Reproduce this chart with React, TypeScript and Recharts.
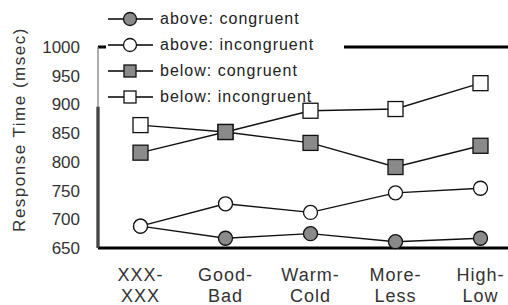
import React from "react";
import { LineChart, Line, XAxis, YAxis, Legend, ReferenceLine } from "recharts";

const categories = ["XXX-XXX", "Good-Bad", "Warm-Cold", "More-Less", "High-Low"];
const aboveCongruent = [688, 667, 675, 661, 667];
const aboveIncongruent = [688, 727, 712, 746, 754];
const belowCongruent = [816, 852, 833, 791, 828];
const belowIncongruent = [864, 852, 889, 892, 937];
const yTicks = [650, 700, 750, 800, 850, 900, 950, 1000];
const yMarkTicks = [900, 950, 1000];
const categoryTicks = [1, 2, 3, 4, 5];
const boundaryTicks = [1.5, 2.5, 3.5, 4.5];

const data = categories.map((name, i) => ({
  pos: i + 1,
  name,
  aboveCongruent: aboveCongruent[i],
  aboveIncongruent: aboveIncongruent[i],
  belowCongruent: belowCongruent[i],
  belowIncongruent: belowIncongruent[i],
}));

const GRAY = "#8a8a8a";
const FONT = '"Liberation Sans", Arial, sans-serif';

type Shape = "circle" | "square";

const series: { key: string; name: string; shape: Shape; fill: string }[] = [
  { key: "aboveCongruent", name: "above: congruent", shape: "circle", fill: GRAY },
  { key: "aboveIncongruent", name: "above: incongruent", shape: "circle", fill: "#fff" },
  { key: "belowCongruent", name: "below: congruent", shape: "square", fill: GRAY },
  { key: "belowIncongruent", name: "below: incongruent", shape: "square", fill: "#fff" },
];

// draw order: white squares under the grey ones
const drawOrder = ["aboveCongruent", "aboveIncongruent", "belowIncongruent", "belowCongruent"];

const Marker = ({ cx, cy, shape, fill, size }: any) =>
  shape === "circle" ? (
    <circle cx={cx} cy={cy} r={size / 2} fill={fill} stroke="#111" strokeWidth={1.3} />
  ) : (
    <rect x={cx - size / 2} y={cy - size / 2} width={size} height={size} fill={fill} stroke="#111" strokeWidth={1.3} />
  );

const CategoryTick = ({ x, y, payload }: any) => {
  const label = categories[payload.value - 1] || "";
  const [top, bottom] = label.split("-");
  return (
    <text x={x} y={y} textAnchor="middle" fill="#333" fontSize={18} fontFamily={FONT} style={{ letterSpacing: 1 }}>
      <tspan x={x} dy={33}>{top}-</tspan>
      <tspan x={x} dy={21}>{bottom}</tspan>
    </text>
  );
};

const LegendBox = () => (
  <div style={{ width: 238, paddingLeft: 2, fontFamily: FONT }}>
    {series.map((s, i) => (
      <div
        key={s.key}
        style={{ display: "flex", alignItems: "center", height: 26, background: i < 2 ? "#fff" : "transparent" }}
      >
        <svg width={50} height={26}>
          <line x1={2} y1={13} x2={47} y2={13} stroke="#000" strokeWidth={1.5} />
          <Marker cx={24} cy={13} shape={s.shape} fill={s.fill} size={s.shape === "circle" ? 13 : 12} />
        </svg>
        <span style={{ marginLeft: 4, fontSize: 16, letterSpacing: 1, color: "#222" }}>{s.name}</span>
      </div>
    ))}
  </div>
);

export default function App() {
  return (
    <div style={{ position: "absolute", left: 0, top: 0, width: 508, height: 305, overflow: "hidden", background: "#fff" }}>
      <LineChart width={540} height={305} data={data} margin={{ top: 47, right: 17, bottom: 0, left: 38 }}>
        <XAxis
          xAxisId="marks"
          type="number"
          dataKey="pos"
          domain={[0.5, 5.5]}
          ticks={boundaryTicks}
          mirror
          height={0}
          axisLine={false}
          tickSize={5}
          tickLine={{ stroke: "#333" }}
          tickFormatter={() => ""}
        />
        <XAxis
          type="number"
          dataKey="pos"
          domain={[0.5, 5.5]}
          ticks={categoryTicks}
          height={57}
          tickLine={false}
          tickSize={0}
          tickMargin={0}
          axisLine={{ stroke: "#000", strokeWidth: 3 }}
          tick={<CategoryTick />}
          interval={0}
        />
        <YAxis
          domain={[650, 1000]}
          ticks={yTicks}
          width={60}
          interval={0}
          axisLine={false}
          tickLine={false}
          tickSize={4}
          tickMargin={14}
          tick={{ fill: "#333", fontSize: 17, fontFamily: FONT }}
          label={{
            content: ({ viewBox }: any) => {
              const lx = viewBox.x - 19;
              const ly = viewBox.y + viewBox.height / 2 - 18;
              return (
                <text
                  x={lx}
                  y={ly}
                  transform={`rotate(-90 ${lx} ${ly})`}
                  textAnchor="middle"
                  dominantBaseline="central"
                  fill="#333"
                  fontSize={17}
                  fontFamily={FONT}
                  style={{ letterSpacing: 1.5 }}
                >
                  Response Time (msec)
                </text>
              );
            },
          }}
        />
        <YAxis
          yAxisId="marks"
          domain={[650, 1000]}
          ticks={yMarkTicks}
          mirror
          width={6}
          axisLine={{ stroke: "#777", strokeWidth: 1.2 }}
          tickSize={5}
          tickLine={{ stroke: "#777", strokeWidth: 1.2 }}
          tickFormatter={() => ""}
        />
        <ReferenceLine y={1000} stroke="#000" strokeWidth={3} />
        <ReferenceLine
          segment={[
            { x: 0.5, y: 650 },
            { x: 0.5, y: 896 },
          ]}
          stroke="#000"
          strokeWidth={3}
        />
        {drawOrder.map((key) => {
          const s = series.find((d) => d.key === key)!;
          return (
            <Line
              key={s.key}
              dataKey={s.key}
              name={s.name}
              stroke="#111"
              strokeWidth={1.4}
              isAnimationActive={false}
              dot={(p: any) => (
                <Marker key={`${s.key}-${p.index}`} cx={p.cx} cy={p.cy} shape={s.shape} fill={s.fill} size={s.shape === "circle" ? 14 : 15} />
              )}
              activeDot={false}
            />
          );
        })}
        <Legend
          layout="vertical"
          align="center"
          verticalAlign="middle"
          content={<LegendBox />}
          wrapperStyle={{ top: 6, left: 104, width: 240 }}
        />
      </LineChart>
    </div>
  );
}
